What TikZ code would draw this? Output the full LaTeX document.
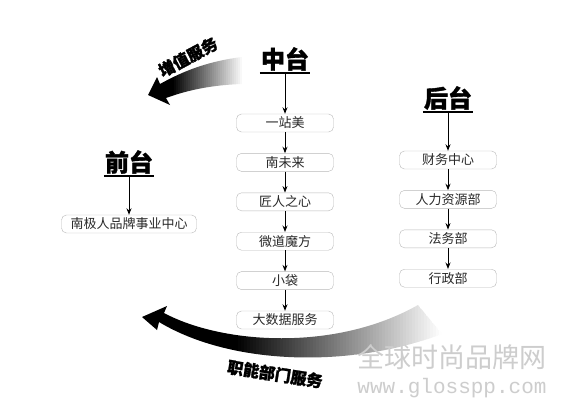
\documentclass[tikz,border=0pt]{standalone}
\usepackage{fontspec}
\usepackage{tikz}
\usetikzlibrary{arrows.meta, positioning, calc}
\setmainfont{Noto Sans CJK SC}
\newfontfamily\headfont[FakeBold=1.5]{Noto Sans CJK SC}
\newfontfamily\wmfont{Liberation Mono}
\definecolor{boxline}{RGB}{185,185,185}
\definecolor{boxtext}{RGB}{40,40,40}
\definecolor{wmgray}{RGB}{205,205,205}

\tikzset{
	deptbox/.style={draw=boxline, rounded corners=5pt, minimum width=97pt, minimum height=18pt,
		inner sep=0pt, text=boxtext, font=\fontsize{13}{15}\selectfont},
	tierhead/.style={font=\fontsize{24}{28}\selectfont\headfont\bfseries, inner xsep=1pt, inner ysep=2pt},
	flowarrow/.style={-{Stealth[length=6.5pt,width=5pt]}, line width=1pt},
	svclabel/.style={font=\fontsize{16}{18}\selectfont\headfont\bfseries},
}

\begin{document}
\begin{tikzpicture}[x=1pt,y=-1pt]
	\useasboundingbox[fill=white] (0,0) rectangle (562,412);
	% tiers
	\node[tierhead] (zt) at (285,59) {中台};
	\node[tierhead] (qt) at (129,162) {前台};
	\node[tierhead] (ht) at (448,98) {后台};
	\foreach \t in {zt,qt,ht}
		\draw[line width=1.6pt] (\t.south west) -- (\t.south east);
	% middle
	\node[deptbox] (m1) at (285,123) {一站美};
	\node[deptbox, below=21pt of m1] (m2) {南未来};
	\node[deptbox, below=21pt of m2] (m3) {匠人之心};
	\node[deptbox, below=21pt of m3] (m4) {微道魔方};
	\node[deptbox, below=21pt of m4] (m5) {小袋};
	\node[deptbox, below=21pt of m5] (m6) {大数据服务};
	% front
	\node[deptbox, minimum width=135pt] (f1) at (129,224) {南极人品牌事业中心};
	% back
	\node[deptbox] (b1) at (448,160) {财务中心};
	\node[deptbox, below=21pt of b1] (b2) {人力资源部};
	\node[deptbox, below=21pt of b2] (b3) {法务部};
	\node[deptbox, below=21pt of b3] (b4) {行政部};
	\draw[flowarrow] (zt.south) -- (m1);
	\draw[flowarrow] (qt.south) -- (f1);
	\draw[flowarrow] (ht.south) -- (b1);
	\foreach \a/\b in {m1/m2,m2/m3,m3/m4,m4/m5,m5/m6,b1/b2,b2/b3,b3/b4}
		\draw[flowarrow] (\a) -- (\b);
	% service arrows, faded by strips
	\begin{scope}
		\clip (148,95) -- (157,77) -- (160,84) .. controls (185,70) and (210,61) .. (242,57)
			-- (242,84) .. controls (212,85) and (188,90) .. (166,98) -- (170,105) -- cycle;
		\foreach \i in {0,...,47} {
			\pgfmathsetmacro\xa{148+2*\i}
			\pgfmathsetmacro\pct{max(0,min(100,100*((242-\xa)/70)))}
			\fill[black!\pct] (\xa,50) rectangle (\xa+2.4,110);
		}
	\end{scope}
	\node[svclabel, rotate=28] (zz) at (188,57) {增值服务};
	\begin{scope}
		\clip (142,317) -- (167,306) -- (164,313) .. controls (222,344) and (335,352) .. (418,305)
			-- (442,334) .. controls (352,368) and (232,366) .. (159,322) -- (157,330) -- cycle;
		\foreach \i in {0,...,100} {
			\pgfmathsetmacro\xa{142+3*\i}
			\pgfmathsetmacro\pct{max(0,min(100,100*((440-\xa)/205)))}
			\fill[black!\pct] (\xa,300) rectangle (\xa+3.4,370);
		}
	\end{scope}
	\node[svclabel, rotate=-9] (zn) at (275,374) {职能部门服务};
	% mark
	\node[text=wmgray, font=\fontsize{27}{30}\selectfont] (wm1) at (452,357) {全球时尚品牌网};
	\node[text=wmgray, font=\wmfont\fontsize{21}{24}\selectfont] (wm2) at (452,388) {www.glosspp.com};
\end{tikzpicture}
\end{document}
